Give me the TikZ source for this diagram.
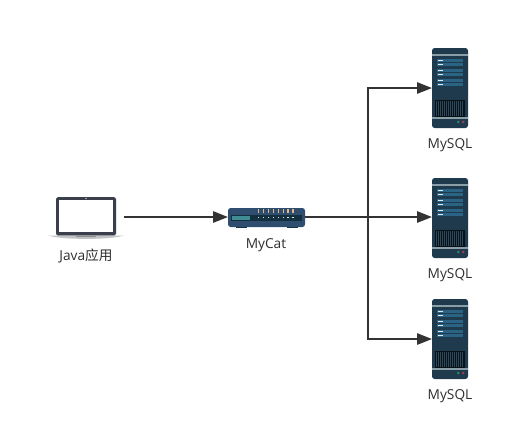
\documentclass[tikz,border=0pt]{standalone}
\usepackage{fontspec}
\usepackage{tikz}
\usetikzlibrary{arrows.meta}
\setmainfont{Open Sans}
\newfontfamily\cjkfont{Noto Sans CJK SC}
\definecolor{serverdark}{HTML}{1F3A4D}
\definecolor{serverbar}{HTML}{8A9EA8}
\definecolor{serverrow}{HTML}{2A6384}
\definecolor{servergrille}{HTML}{2B4A5E}
\definecolor{ledgreen}{HTML}{2E8B6F}
\definecolor{ledred}{HTML}{A83C55}
\definecolor{hubblue}{HTML}{2F4E6F}
\definecolor{hubdark}{HTML}{14303F}
\definecolor{hubteal}{HTML}{3F8C94}
\definecolor{hubled}{HTML}{E0B888}
\definecolor{lapdark}{HTML}{3B3F4C}
\definecolor{lapbase}{HTML}{BFC3C3}
\definecolor{linkgray}{HTML}{333333}
\definecolor{labelgray}{HTML}{2E2E2E}
\tikzset{
  link/.style={linkgray,line width=1.1pt},
  linkarrow/.style={link,-{Triangle[length=8.5pt,width=6.4pt]}},
  iconbox/.style={inner sep=0pt,outer sep=0pt},
  caption/.style={text=labelgray,font=\fontsize{7.8}{10}\selectfont,inner sep=0pt},
}
% one rack: the top left corner is given in pixels
\newcommand{\drawrack}[2]{
  \begin{scope}[shift={(#1,#2)}]
    \fill[serverdark,rounded corners=1.5pt] (0,0) rectangle (36,80);
    \fill[serverbar] (0,6.3) rectangle (36,8);
    \fill[serverbar] (0,69) rectangle (36,71);
    \foreach \rowy in {11,15,21,25,31,35}{
      \fill[serverrow] (4.7,\rowy) rectangle (31.3,\rowy+3.2);
      \fill[white!85!serverrow] (5.5,\rowy+1) rectangle (10.5,\rowy+2.2);
    }
    \fill[black!70!serverdark] (3,52) rectangle (33,68.7);
    \foreach \i in {0,...,13}
      \fill[servergrille] (4+2*\i,52.5) rectangle (4.8+2*\i,68);
    \fill[ledgreen] (26.3,74) circle (1.4);
    \fill[ledred] (31.3,74) circle (1.4);
  \end{scope}
}
\begin{document}
\begin{tikzpicture}[x=0.02cm,y=-0.02cm]
\useasboundingbox (0,0) rectangle (530,441);

% named boxes for the icons, details follow
\node[iconbox,minimum width=1.52cm,minimum height=0.8cm] (laptop) at (86,217) {};
\node[iconbox,minimum width=1.54cm,minimum height=0.4cm] (mycat) at (266.5,217) {};
\node[iconbox,minimum width=0.72cm,minimum height=1.6cm] (server1) at (450,88) {};
\node[iconbox,minimum width=0.72cm,minimum height=1.6cm] (server2) at (450,217) {};
\node[iconbox,minimum width=0.72cm,minimum height=1.6cm] (server3) at (450,339) {};
\coordinate (branch) at (368,217);

% laptop
\fill[lapdark,rounded corners=1pt] (56,197) rectangle (116,235.5);
\fill[white] (59,200) rectangle (113,232);
\fill[white] (86,198.5) circle (0.6);
\fill[lapbase] (48,235.5) -- (124,235.5) .. controls (110,240) and (62,240) .. (48,235.5) -- cycle;
\fill[black!45] (76,235.5) rectangle (96,236.5);

% hub
\fill[hubdark] (236,226) rectangle (247,228);
\fill[hubdark] (287,226) rectangle (298,228);
\fill[hubblue,rounded corners=1.5pt] (228,208) rectangle (305,227);
\fill[hubdark] (231,215) rectangle (302,220.5);
\fill[hubteal] (232,216) rectangle (250,219.5);
\foreach \i in {0,...,7}{
  \fill[hubled] (258+4.9*\i,209) rectangle (259.4+4.9*\i,212.5);
  \fill[white!80!hubteal] (258+4.9*\i,217) rectangle (259.2+4.9*\i,218.2);
}

% racks
\drawrack{432}{48}
\drawrack{432}{178}
\drawrack{432}{299}

% connectors
\draw[linkarrow] (laptop) -- (mycat);
\draw[linkarrow] (mycat) -- (server2);
\draw[linkarrow] (branch) |- (server1);
\draw[linkarrow] (branch) |- (server3);

\node[caption] (javalabel) at (86,256) {Java{\cjkfont 应用}};
\node[caption] (mycatlabel) at (266,245) {MyCat};
\node[caption] (mysql1) at (450,145) {MySQL};
\node[caption] (mysql2) at (450,275) {MySQL};
\node[caption] (mysql3) at (450,396) {MySQL};
\end{tikzpicture}
\end{document}
